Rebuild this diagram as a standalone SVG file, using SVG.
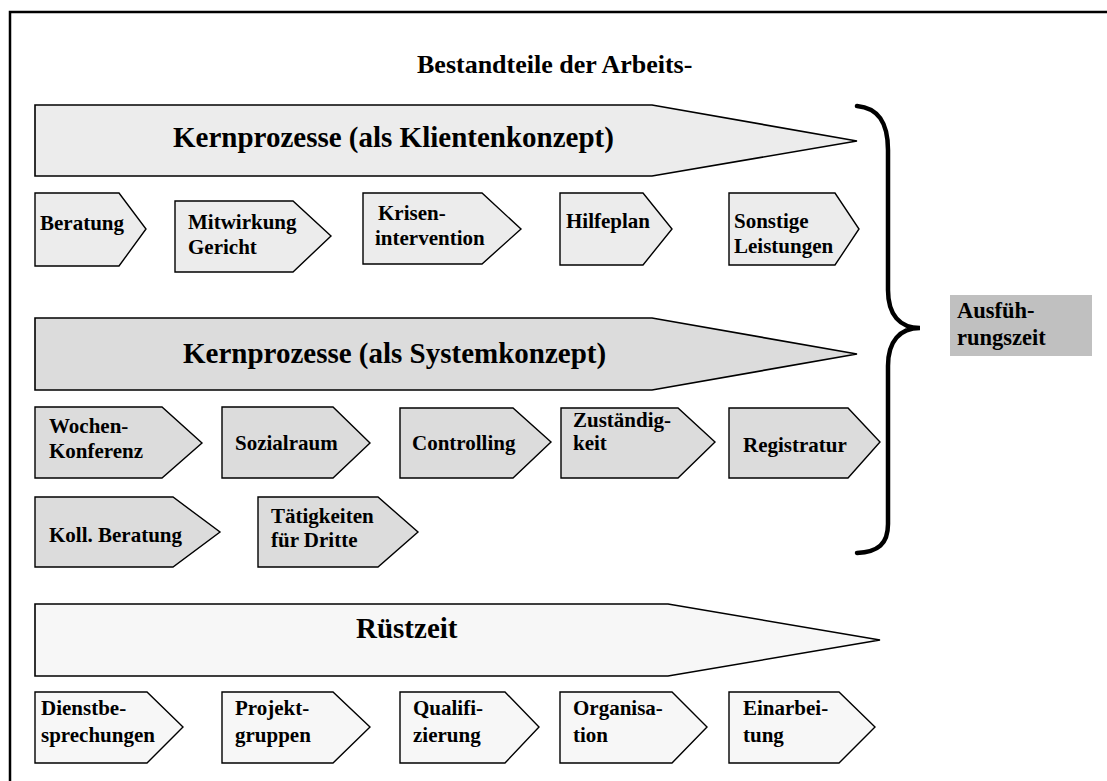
<svg xmlns="http://www.w3.org/2000/svg" width="1107" height="781" viewBox="0 0 1107 781">
  <style>
    .frame { fill: none; stroke: #000; stroke-width: 2.5; }
    .big { stroke: #000; stroke-width: 1.6; stroke-linejoin: miter; }
    .step { stroke: #000; stroke-width: 1.4; stroke-linejoin: miter; }
    .c1 { fill: #ececec; }
    .c2 { fill: #dcdcdc; }
    .c3 { fill: #f7f7f7; }
    text { font-family: "Liberation Serif", "Times New Roman", serif; font-weight: bold; fill: #000; }
    .title { font-size: 26px; }
    .head { font-size: 29px; }
    .lbl { font-size: 21px; }
    .side { font-size: 22.5px; }
    .brace { fill: none; stroke: #000; stroke-width: 4.5; stroke-linecap: round; }
  </style>

  <!-- page frame -->
  <path class="frame" d="M10,781 V12 H1107"/>

  <text class="title" x="417" y="73">Bestandteile der Arbeits-</text>

  <!-- core processes: client concept -->
  <g id="kern-klient">
    <polygon class="big c1" points="35,105 652,105 857,141 652,176 35,176"/>
    <text class="head" x="173" y="147">Kernprozesse (als Klientenkonzept)</text>
  </g>
  <g id="beratung">
    <polygon class="step c1" points="35,193 119,193 146,229 119,266 35,266"/>
    <text class="lbl" x="40" y="230">Beratung</text>
  </g>
  <g id="mitwirkung">
    <polygon class="step c1" points="175,201 293,201 331,236 293,272 175,272"/>
    <text class="lbl" x="188" y="229">Mitwirkung</text>
    <text class="lbl" x="188" y="254">Gericht</text>
  </g>
  <g id="krisen">
    <polygon class="step c1" points="363,193 482,193 521,229 482,264 363,264"/>
    <text class="lbl" x="378" y="220">Krisen-</text>
    <text class="lbl" x="375" y="245">intervention</text>
  </g>
  <g id="hilfeplan">
    <polygon class="step c1" points="560,193 643,193 672,229 643,265 560,265"/>
    <text class="lbl" x="566" y="228">Hilfeplan</text>
  </g>
  <g id="sonstige">
    <polygon class="step c1" points="729,193 835,193 859,229 835,265 729,265"/>
    <text class="lbl" x="734" y="228">Sonstige</text>
    <text class="lbl" x="734" y="253">Leistungen</text>
  </g>

  <!-- core processes: system concept -->
  <g id="kern-system">
    <polygon class="big c2" points="35,318 652,318 857,354 652,390 35,390"/>
    <text class="head" x="183" y="363">Kernprozesse (als Systemkonzept)</text>
  </g>
  <g id="wochenkonferenz">
    <polygon class="step c2" points="35,407 162,407 202,443 162,478 35,478"/>
    <text class="lbl" x="49" y="433">Wochen-</text>
    <text class="lbl" x="49" y="458">Konferenz</text>
  </g>
  <g id="sozialraum">
    <polygon class="step c2" points="222,407 333,407 370,443 333,478 222,478"/>
    <text class="lbl" x="235" y="450">Sozialraum</text>
  </g>
  <g id="controlling">
    <polygon class="step c2" points="400,408 513,408 551,442 513,478 400,478"/>
    <text class="lbl" x="412" y="450">Controlling</text>
  </g>
  <g id="zustaendigkeit">
    <polygon class="step c2" points="561,408 678,408 715,442 678,478 561,478"/>
    <text class="lbl" x="573" y="427">Zuständig-</text>
    <text class="lbl" x="573" y="450">keit</text>
  </g>
  <g id="registratur">
    <polygon class="step c2" points="729,408 848,408 880,442 848,478 729,478"/>
    <text class="lbl" x="743" y="452">Registratur</text>
  </g>
  <g id="koll-beratung">
    <polygon class="step c2" points="35,497 173,497 220,532 173,567 35,567"/>
    <text class="lbl" x="49" y="542">Koll. Beratung</text>
  </g>
  <g id="dritte">
    <polygon class="step c2" points="258,497 378,497 418,532 378,567 258,567"/>
    <text class="lbl" x="271" y="523">Tätigkeiten</text>
    <text class="lbl" x="271" y="547">für Dritte</text>
  </g>

  <!-- set-up time -->
  <g id="ruestzeit">
    <polygon class="big c3" points="35,604 668,604 880,640 668,676 35,676"/>
    <text class="head" x="356" y="638">Rüstzeit</text>
  </g>
  <g id="dienstbesprechungen">
    <polygon class="step c3" points="35,692 147,692 183,727 147,763 35,763"/>
    <text class="lbl" x="41" y="715">Dienstbe-</text>
    <text class="lbl" x="41" y="742">sprechungen</text>
  </g>
  <g id="projektgruppen">
    <polygon class="step c3" points="222,692 333,692 370,727 333,763 222,763"/>
    <text class="lbl" x="235" y="715">Projekt-</text>
    <text class="lbl" x="235" y="742">gruppen</text>
  </g>
  <g id="qualifizierung">
    <polygon class="step c3" points="400,692 505,692 539,727 505,763 400,763"/>
    <text class="lbl" x="413" y="715">Qualifi-</text>
    <text class="lbl" x="413" y="742">zierung</text>
  </g>
  <g id="organisation">
    <polygon class="step c3" points="560,692 672,692 707,727 672,763 560,763"/>
    <text class="lbl" x="573" y="715">Organisa-</text>
    <text class="lbl" x="573" y="742">tion</text>
  </g>
  <g id="einarbeitung">
    <polygon class="step c3" points="729,692 839,692 875,727 839,763 729,763"/>
    <text class="lbl" x="743" y="715">Einarbei-</text>
    <text class="lbl" x="743" y="742">tung</text>
  </g>

  <!-- brace grouping the execution time -->
  <g id="connectors">
    <path class="brace" d="M857,106 C878,108 888,122 888,150 V290 C888,315 900,328 920,328 C900,328 888,341 888,366 V524 C888,544 878,552 857,553"/>
  </g>

  <g id="ausfuehrungszeit">
    <rect x="950" y="295" width="142" height="61" fill="#c0c0c0"/>
    <text class="side" x="957" y="318">Ausfüh-</text>
    <text class="side" x="957" y="345">rungszeit</text>
  </g>
</svg>
